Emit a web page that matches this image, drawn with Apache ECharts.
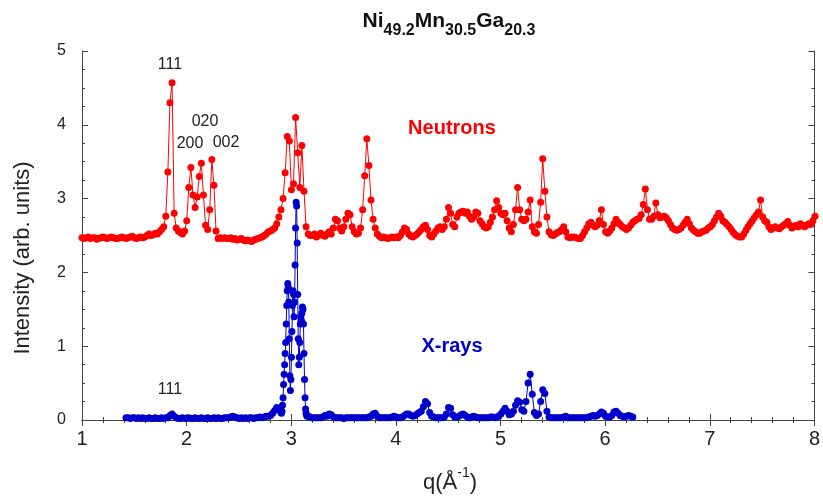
<!DOCTYPE html>
<html>
<head>
<meta charset="utf-8">
<script src="https://cdn.jsdelivr.net/npm/echarts@6/dist/echarts.min.js"></script>
<style>
  html, body { margin: 0; padding: 0; background: #fff; }
  .layer { position: absolute; left: 0; top: 0; width: 823px; height: 498px; }
</style>
</head>
<body>
<div id="frame" class="layer"></div>
<div id="chart" class="layer"></div>
<script>
// Neutron pattern, q = 1.00 .. 8.00 in steps of 0.02
const neutronStart = 1.0;
const neutronStep = 0.02;
const neutronI = [
  2.47, 2.46, 2.47, 2.48, 2.46, 2.47, 2.47, 2.45, 2.46, 2.47,
  2.48, 2.47, 2.46, 2.47, 2.48, 2.47, 2.46, 2.46, 2.47, 2.48,
  2.47, 2.46, 2.47, 2.48, 2.49, 2.47, 2.46, 2.47, 2.48, 2.47,
  2.48, 2.50, 2.52, 2.50, 2.51, 2.53, 2.52, 2.55, 2.58, 2.62,
  2.76, 3.36, 4.30, 4.57, 2.80, 2.60, 2.56, 2.54, 2.52, 2.56,
  2.70, 3.15, 3.42, 3.05, 2.88, 3.02, 3.30, 3.48, 3.05, 2.64,
  2.58, 2.85, 3.53, 3.18, 2.56, 2.46, 2.47, 2.46, 2.47, 2.46,
  2.46, 2.47, 2.45, 2.46, 2.44, 2.45, 2.46, 2.44, 2.43, 2.44,
  2.43, 2.42, 2.44, 2.45, 2.46, 2.47, 2.48, 2.50, 2.52, 2.55,
  2.56, 2.58, 2.60, 2.66, 2.75, 2.85, 3.00, 3.35, 3.84, 3.78,
  3.12, 3.20, 4.10, 3.62, 3.15, 3.72, 3.10, 2.62, 2.52, 2.50,
  2.50, 2.52, 2.48, 2.51, 2.53, 2.50, 2.49, 2.52, 2.55, 2.52,
  2.60, 2.72, 2.70, 2.60, 2.56, 2.62, 2.72, 2.80, 2.78, 2.62,
  2.55, 2.52, 2.53, 2.60, 2.85, 3.31, 3.81, 3.45, 2.98, 2.72,
  2.60, 2.52, 2.49, 2.47, 2.48, 2.47, 2.46, 2.47, 2.48, 2.47,
  2.48, 2.47, 2.50, 2.55, 2.60, 2.58, 2.52, 2.49, 2.48, 2.50,
  2.52, 2.55, 2.58, 2.62, 2.64, 2.58, 2.50, 2.48, 2.52, 2.56,
  2.60, 2.62, 2.58, 2.62, 2.72, 2.88, 2.80, 2.65, 2.62, 2.75,
  2.80, 2.82, 2.83, 2.80, 2.82, 2.76, 2.72, 2.75, 2.82, 2.80,
  2.70, 2.66, 2.62, 2.60, 2.62, 2.68, 2.75, 2.85, 2.97, 2.88,
  2.80, 2.78, 2.80, 2.70, 2.60, 2.55, 2.65, 2.85, 3.15, 2.85,
  2.72, 2.70, 2.72, 2.82, 2.98, 2.62, 2.55, 2.53, 2.65, 2.95,
  3.54, 3.10, 2.75, 2.55, 2.51, 2.50, 2.52, 2.54, 2.55, 2.58,
  2.62, 2.55, 2.48, 2.47, 2.48, 2.48, 2.47, 2.46, 2.46, 2.50,
  2.55, 2.60, 2.66, 2.68, 2.64, 2.62, 2.64, 2.70, 2.85, 2.65,
  2.55, 2.53, 2.56, 2.60, 2.66, 2.72, 2.68, 2.65, 2.62, 2.60,
  2.58, 2.60, 2.64, 2.68, 2.70, 2.72, 2.73, 2.78, 2.92, 3.13,
  2.85, 2.72, 2.72, 2.76, 2.94, 2.78, 2.74, 2.75, 2.76, 2.74,
  2.70, 2.65, 2.60, 2.58, 2.57, 2.58, 2.60, 2.64, 2.68, 2.72,
  2.66, 2.60, 2.57, 2.55, 2.53, 2.53, 2.55, 2.56, 2.57, 2.60,
  2.62, 2.65, 2.70, 2.75, 2.80, 2.76, 2.70, 2.68, 2.65, 2.62,
  2.58, 2.54, 2.51, 2.49, 2.48, 2.48, 2.52, 2.57, 2.62, 2.66,
  2.70, 2.74, 2.78, 2.82, 2.98, 2.75, 2.70, 2.68, 2.62, 2.58,
  2.60, 2.62, 2.60, 2.59, 2.62, 2.64, 2.66, 2.69, 2.64, 2.60,
  2.62, 2.64, 2.62, 2.66, 2.64, 2.62, 2.64, 2.66, 2.65, 2.70,
  2.76
];

// X-ray pattern, three pieces (finer sampling across the main peak)
const xrayLowStart = 1.42;
const xrayLowStep = 0.02;
const xrayLowI = [
  0.03, 0.03, 0.02, 0.03, 0.03, 0.02, 0.03, 0.02, 0.03, 0.02,
  0.02, 0.03, 0.02, 0.02, 0.03, 0.02, 0.02, 0.03, 0.02, 0.03,
  0.03, 0.06, 0.08, 0.05, 0.03, 0.02, 0.02, 0.03, 0.02, 0.02,
  0.03, 0.02, 0.02, 0.03, 0.02, 0.02, 0.03, 0.02, 0.02, 0.03,
  0.02, 0.02, 0.03, 0.02, 0.03, 0.02, 0.02, 0.03, 0.03, 0.03,
  0.04, 0.05, 0.04, 0.03, 0.02, 0.03, 0.02, 0.03, 0.02, 0.03,
  0.03, 0.02, 0.03, 0.03, 0.04, 0.03, 0.04, 0.05, 0.05, 0.06,
  0.09, 0.13, 0.17, 0.14
];
const xrayPeakStart = 2.90;
const xrayPeakStep = 0.005;
const xrayPeakI = [
  0.10, 0.09, 0.12, 0.20, 0.30, 0.48, 0.62, 0.75, 0.90, 1.05,
  1.30, 1.55, 1.75, 1.85, 1.80, 1.60, 1.10, 0.60, 0.40, 0.55,
  0.85, 1.20, 1.55, 1.75, 1.70, 1.40, 1.60, 2.10, 2.60, 2.95,
  2.90, 2.40, 1.70, 1.10, 0.75, 0.85, 1.05, 1.30, 1.40, 1.35,
  1.45, 1.53, 1.50, 1.30, 0.90, 0.55, 0.30, 0.15, 0.09, 0.06,
  0.05
];
const xrayHighStart = 3.16;
const xrayHighStep = 0.02;
const xrayHighI = [
  0.05, 0.04, 0.03, 0.03, 0.03, 0.03, 0.03, 0.04, 0.06, 0.05,
  0.08, 0.07, 0.04, 0.03, 0.03, 0.03, 0.03, 0.02, 0.03, 0.03,
  0.03, 0.03, 0.03, 0.03, 0.03, 0.03, 0.03, 0.03, 0.03, 0.04,
  0.05, 0.08, 0.09, 0.05, 0.03, 0.03, 0.03, 0.03, 0.03, 0.03,
  0.04, 0.05, 0.04, 0.03, 0.03, 0.04, 0.06, 0.08, 0.08, 0.06,
  0.05, 0.06, 0.08, 0.10, 0.12, 0.18, 0.25, 0.22, 0.10, 0.05,
  0.04, 0.03, 0.03, 0.03, 0.03, 0.04, 0.08, 0.17, 0.16, 0.07,
  0.04, 0.04, 0.05, 0.07, 0.08, 0.06, 0.04, 0.03, 0.04, 0.05,
  0.04, 0.03, 0.03, 0.03, 0.03, 0.03, 0.03, 0.04, 0.04, 0.03,
  0.04, 0.05, 0.08, 0.12, 0.16, 0.12, 0.07, 0.08, 0.12, 0.20,
  0.26, 0.24, 0.14, 0.12, 0.25, 0.50, 0.62, 0.35, 0.10, 0.06,
  0.08, 0.25, 0.41, 0.36, 0.12, 0.04, 0.03, 0.03, 0.03, 0.03,
  0.03, 0.03, 0.04, 0.05, 0.03, 0.03, 0.03, 0.03, 0.03, 0.03,
  0.03, 0.03, 0.03, 0.03, 0.04, 0.05, 0.06, 0.05, 0.06, 0.08,
  0.11, 0.09, 0.05, 0.04, 0.04, 0.06, 0.11, 0.12, 0.09, 0.06,
  0.05, 0.04, 0.05, 0.06, 0.05, 0.04
];

const xTicks = [1, 8, 1];   // min, max, step
const yTicks = [0, 5, 1];

function toPairs(start, step, values) {
  return values.map((v, i) => [+(start + i * step).toFixed(3), v]);
}

const neutronData = toPairs(neutronStart, neutronStep, neutronI);
const xrayData = toPairs(xrayLowStart, xrayLowStep, xrayLowI)
  .concat(toPairs(xrayPeakStart, xrayPeakStep, xrayPeakI))
  .concat(toPairs(xrayHighStart, xrayHighStep, xrayHighI));

const font = '"Liberation Sans", Arial, sans-serif';
const axisColor = '#444';
const red = '#ff0000';
const blue = '#0000cc';
const gridBox = { left: 82, right: 8, top: 51, bottom: 78 };

// Layer 1: the boxed frame, every side an axis with inward ticks.
// (ticks went missing when the axes shared an instance with the data series)
const frame = echarts.init(document.getElementById('frame'));

const frameAxis = (extra) => Object.assign({
  type: 'value',
  axisLine: { show: true, lineStyle: { color: axisColor, width: 1 } },
  axisTick: { show: true, inside: true, length: 6, lineStyle: { color: axisColor } },
  splitLine: { show: false }
}, extra);

frame.setOption({
  animation: false,
  backgroundColor: '#fff',
  grid: gridBox,
  xAxis: [
    frameAxis({
      position: 'bottom',
      min: xTicks[0], max: xTicks[1], interval: xTicks[2],
      minorTick: { show: true, splitNumber: 5, length: 3, lineStyle: { color: axisColor } },
      axisLabel: { fontFamily: font, fontSize: 20, color: '#222', margin: 9 }
    }),
    frameAxis({
      position: 'top',
      min: xTicks[0], max: xTicks[1], interval: xTicks[2],
      minorTick: { show: true, splitNumber: 5, length: 3, lineStyle: { color: axisColor } },
      axisLabel: { show: false }
    })
  ],
  yAxis: [
    frameAxis({
      position: 'left',
      min: yTicks[0], max: yTicks[1], interval: yTicks[2],
      minorTick: { show: true, splitNumber: 4, length: 3, lineStyle: { color: axisColor } },
      axisLabel: { fontFamily: font, fontSize: 16, color: '#222', margin: 16 }
    }),
    frameAxis({
      position: 'right',
      min: yTicks[0], max: yTicks[1], interval: yTicks[2],
      minorTick: { show: true, splitNumber: 4, length: 3, lineStyle: { color: axisColor } },
      axisLabel: { show: false }
    })
  ],
  series: [{ type: 'line', data: [] }]
});

// Layer 2: data, title and annotations on the same scales, axes hidden
const chart = echarts.init(document.getElementById('chart'));

chart.setOption({
  animation: false,
  backgroundColor: 'transparent',
  title: {
    text: '{b|Ni}{s|49.2}{b|Mn}{s|30.5}{b|Ga}{s|20.3}',
    left: 444,
    textAlign: 'center',
    top: 6,
    textStyle: {
      rich: {
        b: { fontFamily: font, fontWeight: 'bold', fontSize: 21, color: '#111', lineHeight: 25, verticalAlign: 'top' },
        s: { fontFamily: font, fontWeight: 'bold', fontSize: 16, color: '#111', lineHeight: 42, verticalAlign: 'top', padding: [12, 0, 0, 0] }
      }
    }
  },
  grid: gridBox,
  xAxis: { type: 'value', min: xTicks[0], max: xTicks[1], show: false },
  yAxis: { type: 'value', min: yTicks[0], max: yTicks[1], show: false },
  graphic: [
    { type: 'text', x: 23, y: 258, rotation: Math.PI / 2,
      style: { text: 'Intensity (arb. units)', font: '22px ' + font, fill: '#222', align: 'center', verticalAlign: 'middle' } },
    { type: 'text', x: 450, y: 480,
      style: {
        text: '{a|q(Å}{u|-1}{a|)}', align: 'center', verticalAlign: 'middle',
        rich: {
          a: { fontFamily: font, fontSize: 22, fill: '#222', lineHeight: 28, verticalAlign: 'bottom' },
          u: { fontFamily: font, fontSize: 14, fill: '#222', lineHeight: 15, verticalAlign: 'top' }
        }
      } },
    { type: 'text', x: 170, y: 65,
      style: { text: '111', font: '16px ' + font, fill: '#222', align: 'center', verticalAlign: 'middle' } },
    { type: 'text', x: 205, y: 122,
      style: { text: '020', font: '16px ' + font, fill: '#222', align: 'center', verticalAlign: 'middle' } },
    { type: 'text', x: 190, y: 144,
      style: { text: '200', font: '16px ' + font, fill: '#222', align: 'center', verticalAlign: 'middle' } },
    { type: 'text', x: 226, y: 143,
      style: { text: '002', font: '16px ' + font, fill: '#222', align: 'center', verticalAlign: 'middle' } },
    { type: 'text', x: 170, y: 390,
      style: { text: '111', font: '16px ' + font, fill: '#222', align: 'center', verticalAlign: 'middle' } },
    { type: 'text', x: 452, y: 128,
      style: { text: 'Neutrons', font: 'bold 20px ' + font, fill: red, align: 'center', verticalAlign: 'middle' } },
    { type: 'text', x: 452, y: 346,
      style: { text: 'X-rays', font: 'bold 20px ' + font, fill: blue, align: 'center', verticalAlign: 'middle' } }
  ],
  series: [
    {
      name: 'Neutrons',
      type: 'line',
      data: neutronData,
      symbol: 'circle',
      symbolSize: 7,
      showAllSymbol: true,
      itemStyle: { color: red },
      lineStyle: { color: red, width: 1 },
      z: 2
    },
    {
      name: 'X-rays',
      type: 'line',
      data: xrayData,
      symbol: 'circle',
      symbolSize: 7,
      showAllSymbol: true,
      itemStyle: { color: blue },
      lineStyle: { color: blue, width: 1 },
      z: 3
    }
  ]
});
</script>
</body>
</html>
